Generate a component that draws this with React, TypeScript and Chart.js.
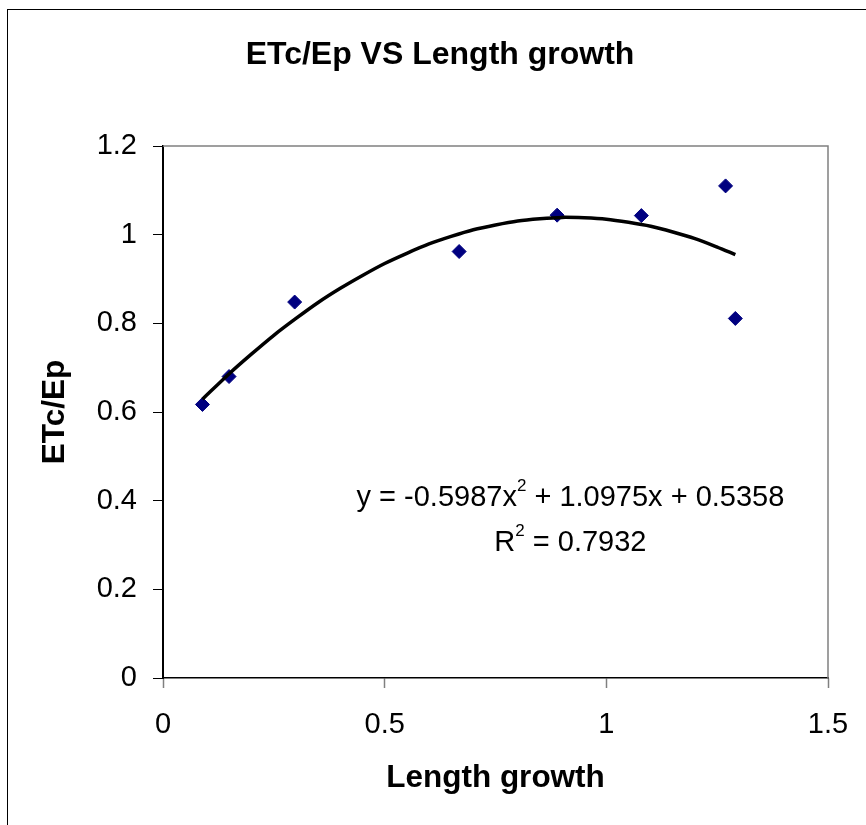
import React, { useEffect, useRef } from "react";
import { Chart, registerables } from "chart.js";

Chart.register(...registerables);

// Observed data points (Length growth vs ETc/Ep)
const lengthGrowth = [0.089, 0.149, 0.297, 0.668, 0.889, 1.079, 1.269, 1.291];
const etcEp = [0.617, 0.68, 0.848, 0.962, 1.044, 1.043, 1.11, 0.811];

// Polynomial trendline as drawn (x positions and y values)
const trendX = [0.089, 0.15, 0.2, 0.25, 0.3, 0.35, 0.4, 0.45, 0.5, 0.55, 0.6, 0.65, 0.7, 0.75, 0.8, 0.85, 0.9, 0.95, 1.0, 1.05, 1.1, 1.15, 1.2, 1.25, 1.291];
const trendY = [0.629, 0.687, 0.731, 0.773, 0.811, 0.847, 0.879, 0.908, 0.935, 0.958, 0.979, 0.996, 1.011, 1.022, 1.031, 1.036, 1.039, 1.038, 1.035, 1.028, 1.019, 1.006, 0.991, 0.972, 0.955];

const xTicksMax = 1.5;
const yTicksMax = 1.2;

const titleText = "ETc/Ep VS Length growth";
const xTitle = "Length growth";
const yTitle = "ETc/Ep";
const eqLine1 = [
  { text: "y = -0.5987x", sup: false },
  { text: "2", sup: true },
  { text: " + 1.0975x + 0.5358", sup: false },
];
const eqLine2 = [
  { text: "R", sup: false },
  { text: "2", sup: true },
  { text: " = 0.7932", sup: false },
];

const FONT = "'Liberation Sans', Arial, Helvetica, sans-serif";

const fmt = (v: number | string) => String(Number(Number(v).toFixed(2)));

const plotFrame = {
  id: "plotFrame",
  beforeDatasetsDraw(chart: any) {
    const { ctx, chartArea } = chart;
    const { left, right, top, bottom } = chartArea;
    ctx.save();
    ctx.strokeStyle = "#808080";
    ctx.lineWidth = 1.5;
    ctx.beginPath();
    ctx.moveTo(left, top);
    ctx.lineTo(right, top);
    ctx.lineTo(right, bottom);
    ctx.stroke();
    ctx.restore();
  },
};

const equationLabel = {
  id: "equationLabel",
  afterDatasetsDraw(chart: any) {
    const { ctx } = chart;
    const xs = chart.scales.x;
    const ys = chart.scales.y;
    const mainFont = `29px ${FONT}`;
    const supFont = `17px ${FONT}`;
    const drawLine = (segs: { text: string; sup: boolean }[], cx: number, baseline: number) => {
      const widths = segs.map((s) => {
        ctx.font = s.sup ? supFont : mainFont;
        return ctx.measureText(s.text).width;
      });
      const total = widths.reduce((a, b) => a + b, 0);
      let x = cx - total / 2;
      segs.forEach((s, i) => {
        ctx.font = s.sup ? supFont : mainFont;
        ctx.fillText(s.text, x, s.sup ? baseline - 15 : baseline);
        x += widths[i];
      });
    };
    ctx.save();
    ctx.fillStyle = "#000";
    ctx.textAlign = "left";
    ctx.textBaseline = "alphabetic";
    drawLine(eqLine1, xs.getPixelForValue(0.919), ys.getPixelForValue(0.388));
    drawLine(eqLine2, xs.getPixelForValue(0.919), ys.getPixelForValue(0.286));
    ctx.restore();
  },
};

function ScatterChart() {
  const canvasRef = useRef<HTMLCanvasElement | null>(null);

  useEffect(() => {
    if (!canvasRef.current) return;
    Chart.defaults.font.family = FONT;
    Chart.defaults.color = "#000";
    const chart = new Chart(canvasRef.current, {
      type: "scatter",
      data: {
        datasets: [
          {
            type: "line",
            label: "Trend",
            data: trendX.map((x, i) => ({ x, y: trendY[i] })),
            borderColor: "#000",
            borderWidth: 3.5,
            pointRadius: 0,
            tension: 0.3,
            fill: false,
          } as any,
          {
            label: "ETc/Ep",
            data: lengthGrowth.map((x, i) => ({ x, y: etcEp[i] })),
            pointStyle: "rectRot",
            pointRadius: 7,
            pointBackgroundColor: "#000080",
            pointBorderColor: "#000080",
            pointBorderWidth: 1,
            showLine: false,
          },
        ],
      },
      options: {
        responsive: false,
        animation: false,
        devicePixelRatio: 1,
        layout: { padding: 0 },
        plugins: {
          legend: { display: false },
          tooltip: { enabled: false },
          title: {
            display: true,
            text: titleText,
            color: "#000",
            font: { size: 32, weight: "bold" },
            padding: { top: 36, bottom: 71.6 },
          },
        },
        scales: {
          x: {
            type: "linear",
            min: 0,
            max: xTicksMax,
            afterFit: (s: any) => {
              s.height = 147;
            },
            ticks: {
              stepSize: 0.5,
              color: "#000",
              font: { size: 29 },
              padding: 20,
              maxRotation: 0,
              callback: (v: any) => fmt(v),
            },
            grid: {
              drawOnChartArea: false,
              drawTicks: true,
              tickLength: 10,
              tickColor: "#808080",
              tickWidth: 1.5,
            },
            border: { display: true, color: "#000", width: 1.5 },
            title: {
              display: true,
              text: xTitle,
              color: "#000",
              font: { size: 31.5, weight: "bold" },
              padding: { top: 0, bottom: 28 },
            },
          },
          y: {
            type: "linear",
            min: 0,
            max: yTicksMax,
            afterFit: (s: any) => {
              s.width = 163;
            },
            ticks: {
              stepSize: 0.2,
              color: "#000",
              font: { size: 29 },
              padding: 16,
              callback: (v: any) => fmt(v),
            },
            grid: {
              drawOnChartArea: false,
              drawTicks: true,
              tickLength: 10,
              tickColor: "#000",
              tickWidth: 1,
            },
            border: { display: true, color: "#000", width: 2 },
            title: {
              display: true,
              text: yTitle,
              color: "#000",
              font: { size: 31.5, weight: "bold" },
              padding: { top: 36, bottom: 0 },
            },
          },
          yRight: {
            type: "linear",
            position: "right",
            display: true,
            afterFit: (s: any) => {
              s.width = 52;
            },
            ticks: { display: false },
            grid: { display: false, drawTicks: false },
            border: { display: false },
          },
        },
      } as any,
      plugins: [plotFrame, equationLabel],
    });
    return () => chart.destroy();
  }, []);

  return (
    <canvas
      ref={canvasRef}
      width={880}
      height={825}
      style={{ position: "absolute", left: 0, top: 0, width: 880, height: 825 }}
    />
  );
}

export default function App() {
  return (
    <div
      style={{
        position: "fixed",
        left: 0,
        top: 0,
        width: 866,
        height: 825,
        overflow: "hidden",
        background: "#fff",
      }}
    >
      <div
        style={{
          position: "absolute",
          left: 7,
          top: 9,
          width: 1000,
          height: 1000,
          borderLeft: "1px solid #000",
          borderTop: "1px solid #000",
        }}
      />
      <ScatterChart />
    </div>
  );
}
